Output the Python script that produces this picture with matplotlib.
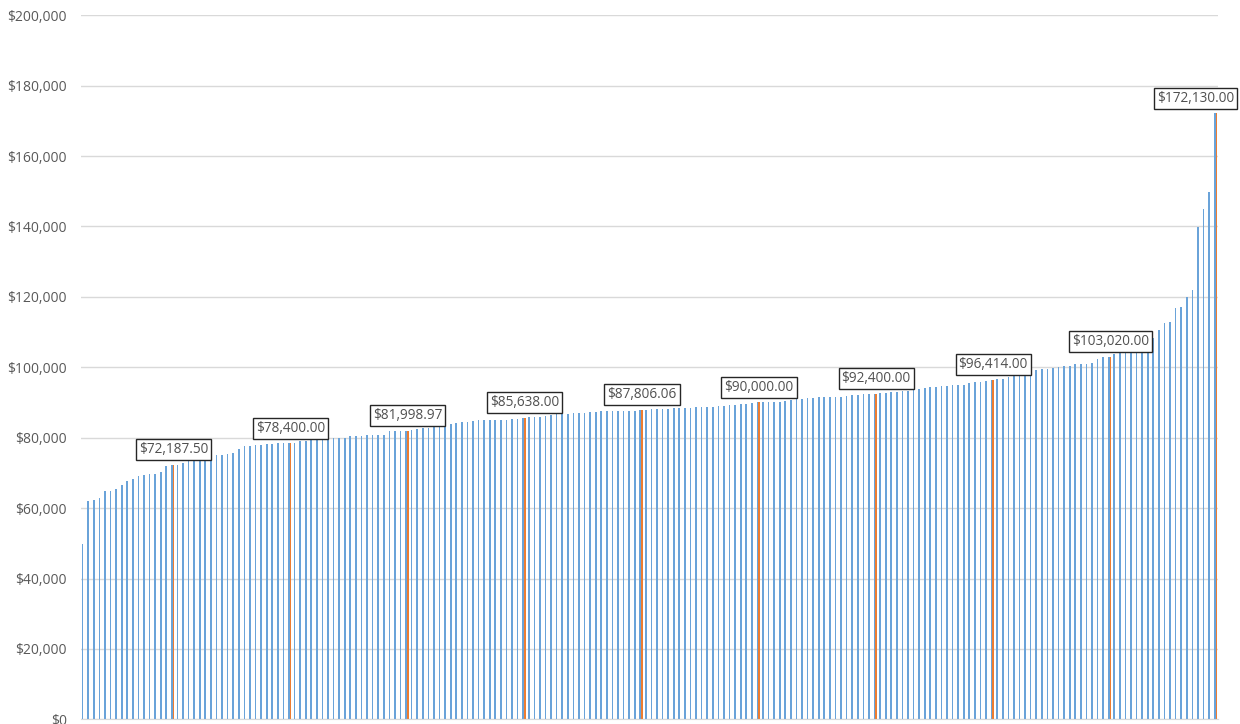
import matplotlib
matplotlib.use("Agg")
import matplotlib.pyplot as plt
from matplotlib.ticker import FuncFormatter, MultipleLocator

# sorted salaries, one bar per person
salaries = [
    49700, 62000, 62300, 62900, 64900, 64900, 65400, 66700, 67600, 68200,
    69000, 69300, 69700, 69700, 70300, 72000, 72187.50, 72300, 72800, 73900,
    73900, 74100, 74400, 74400, 75000, 75000, 75300, 75600, 76900, 77500,
    77700, 77900, 78000, 78300, 78300, 78400, 78400, 78400.00, 78500, 79000,
    79100, 79500, 79700, 79800, 79900, 80000, 80000, 80000, 80400, 80400,
    80400, 80900, 80900, 80900, 80900, 81800, 81900, 81950, 81998.97, 82200,
    82500, 82700, 82700, 83500, 83500, 83500, 83900, 84200, 84400, 84600,
    84800, 85000, 85000, 85000, 85000, 85000, 85100, 85200, 85450, 85638.00,
    85850, 85950, 85950, 86050, 86450, 86650, 86650, 86650, 87050, 87050,
    87050, 87250, 87250, 87450, 87450, 87550, 87550, 87650, 87650, 87700,
    87806.06, 87950, 88050, 88150, 88150, 88250, 88350, 88350, 88450, 88550,
    88750, 88750, 88850, 88850, 88950, 89050, 89150, 89350, 89550, 89550,
    89750, 90000.00, 90050, 90150, 90150, 90200, 90300, 90800, 91000, 91000,
    91200, 91300, 91500, 91500, 91600, 91700, 91700, 91800, 92100, 92200,
    92300, 92300, 92400.00, 92600, 92800, 92900, 93100, 93200, 93400, 93500,
    93800, 94200, 94400, 94400, 94600, 94800, 94900, 95000, 95100, 95500,
    95700, 95900, 96200, 96414.00, 96600, 96700, 97250, 97800, 98000, 98400,
    98900, 99100, 99400, 99600, 99900, 100200, 100400, 100500, 100800, 100900,
    101000, 101100, 102400, 102900, 103020.00, 103900, 104900, 105400, 106400, 106500,
    106600, 107500, 108400, 110500, 112500, 112900, 116800, 117100, 120000, 121900,
    139900, 145000, 149900, 172130.00,
]

# deciles + max, highlighted in orange
decile_idx = [16, 37, 58, 79, 100, 121, 142, 163, 184, 203]
decile_vals = [salaries[i] for i in decile_idx]

blue = "#6AA3D9"
orange = "#ED7D31"
grey_text = "#595959"

fig = plt.figure(figsize=(12.4, 7.24), dpi=100)
ax = fig.add_axes([80.7 / 1240, (724 - 719.3) / 724, (1218.3 - 80.7) / 1240, (719.3 - 15.3) / 724])

n = len(salaries)
w = 0.3
ax.bar([i - w / 2 for i in range(n)], salaries, width=w, color=blue, zorder=2)
ax.bar([i + w / 2 for i in decile_idx], decile_vals, width=w, color=orange, zorder=2)

for k in range(len(decile_idx)):
    i = decile_idx[k]
    dx = -15 if k == len(decile_idx) - 1 else 0
    ax.annotate("${:,.2f}".format(decile_vals[k]), xy=(i + w / 2, decile_vals[k]),
                xytext=(dx, 11), textcoords="offset points", ha="center", va="center",
                fontsize=9.8, family="Open Sans", color="#505050", zorder=5,
                bbox=dict(boxstyle="square,pad=0.22", fc="white", ec="#262626", lw=1.0),
                annotation_clip=False)

ax.set_xlim(-0.5, n - 0.5)
ax.set_ylim(0, 200000)
ax.yaxis.set_major_locator(MultipleLocator(20000))
ax.yaxis.set_major_formatter(FuncFormatter(lambda v, p: "${:,.0f}".format(v)))
ax.grid(axis="y", color="#D9D9D9", lw=1, zorder=0)
ax.set_xticks([])
ax.tick_params(axis="y", length=0, pad=10, labelsize=10, labelcolor=grey_text)
for lbl in ax.get_yticklabels():
    lbl.set_family("Open Sans")
for s in ["top", "right", "left"]:
    ax.spines[s].set_visible(False)
ax.spines["bottom"].set_color("#D9D9D9")

plt.savefig("out.png", dpi=100)
plt.close(fig)
